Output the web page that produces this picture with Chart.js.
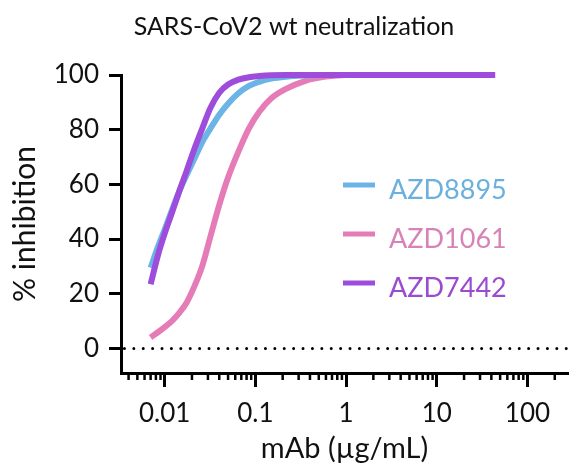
<!DOCTYPE html>
<html>
<head>
<meta charset="utf-8">
<script src="https://cdn.jsdelivr.net/npm/chart.js@4"></script>
<style>
  html, body { margin: 0; padding: 0; background: #fff; }
  #wrap { width: 576px; height: 470px; }
</style>
</head>
<body>
<div id="wrap"><canvas id="chart" width="576" height="470"></canvas></div>
<script>
// concentrations (ug/mL) shared by all three curves
const conc = [0.007, 0.0085, 0.01, 0.012, 0.0145, 0.0175, 0.021, 0.026, 0.032, 0.04, 0.05, 0.065, 0.085, 0.11, 0.15, 0.22, 0.35, 0.6, 1, 2, 5, 12, 25, 44];
const azd8895 = [29.5, 37.5, 43.5, 50.5, 57.5, 63.5, 69, 75.5, 80.5, 85.5, 89.5, 93.3, 96, 97.5, 98.7, 99.4, 99.8, 100, 100, 100, 100, 100, 100, 100];
const azd1061 = [4, 6, 7.8, 10, 13, 16.8, 22.3, 30.2, 41, 52.5, 62.5, 72, 80.5, 86.5, 91.5, 95, 97.8, 99.4, 100, 100, 100, 100, 100, 100];
const azd7442 = [23.5, 34.5, 42, 49.5, 57.5, 65, 72.5, 80.5, 88, 93.5, 96.5, 98.3, 99.2, 99.6, 99.9, 100, 100, 100, 100, 100, 100, 100, 100, 100];
const seriesNames = ['AZD8895', 'AZD1061', 'AZD7442'];
const seriesColors = ['#6db4e6', '#e67cb7', '#9d4cdb'];
const labelColors = ['#6cb0dd', '#d982b7', '#9b4bd0'];
const chartTitle = 'SARS-CoV2 wt neutralization';

const xDecades = [0.01, 0.1, 1, 10, 100];
const yTicks = [0, 20, 40, 60, 80, 100];
const zeroLine = [0.0036, 280];

const xMinor = [];
[0.001, 0.01, 0.1, 1, 10, 100].forEach(d => {
  [2, 3, 4, 5, 6, 7, 8, 9].forEach(m => {
    const v = +(m * d).toPrecision(3);
    if (v > 0.0035 && v < 280) xMinor.push(v);
  });
});

const FONT = 'Lato, "Open Sans", sans-serif';

const toPts = ys => conc.map((c, i) => ({ x: c, y: ys[i] }));

// title, minor ticks on the log axis, and the legend inside the plot
const extras = {
  id: 'extras',
  afterDraw(chart) {
    const ctx = chart.ctx;
    const xs = chart.scales.x;
    const bottom = chart.chartArea.bottom;
    ctx.save();

    ctx.font = '25px ' + FONT;
    ctx.fillStyle = '#111';
    ctx.textAlign = 'center';
    ctx.textBaseline = 'middle';
    ctx.fillText(chartTitle, 294, 27);

    ctx.strokeStyle = '#000';
    ctx.lineWidth = 2.5;
    xMinor.forEach(v => {
      const px = xs.getPixelForValue(v);
      ctx.beginPath();
      ctx.moveTo(px, bottom);
      ctx.lineTo(px, bottom + 7);
      ctx.stroke();
    });

    ctx.font = '27px ' + FONT;
    ctx.textAlign = 'left';
    seriesNames.forEach((name, i) => {
      const y = 185 + i * 49;
      ctx.strokeStyle = seriesColors[i];
      ctx.lineWidth = 5;
      ctx.beginPath();
      ctx.moveTo(343, y);
      ctx.lineTo(375, y);
      ctx.stroke();
      ctx.fillStyle = labelColors[i];
      ctx.fillText(name, 389, y + 5);
    });
    ctx.restore();
  }
};

const curve = (i, ys, order) => ({
  label: seriesNames[i],
  data: toPts(ys),
  borderColor: seriesColors[i],
  borderWidth: 6,
  pointRadius: 0,
  cubicInterpolationMode: 'monotone',
  borderCapStyle: 'butt',
  clip: false,
  order: order
});

new Chart(document.getElementById('chart'), {
  type: 'line',
  data: {
    datasets: [
      curve(2, azd7442, 0),
      curve(0, azd8895, 1),
      curve(1, azd1061, 2),
      {
        label: 'zero',
        data: zeroLine.map(x => ({ x: x, y: 0 })),
        borderColor: '#000',
        borderWidth: 3,
        borderDash: [0, 9.4],
        borderCapStyle: 'round',
        pointRadius: 0,
        order: 3
      }
    ]
  },
  options: {
    responsive: false,
    animation: false,
    layout: { padding: { left: 0, right: 8, top: 75, bottom: 0 } },
    plugins: {
      legend: { display: false },
      tooltip: { enabled: false },
      title: { display: false }
    },
    scales: {
      x: {
        type: 'logarithmic',
        min: 0.0033,
        max: 280,
        afterBuildTicks: s => { s.ticks = xDecades.map(v => ({ value: v })); },
        afterFit: s => { s.height = 97; },
        ticks: {
          callback: v => String(v),
          color: '#111',
          font: { family: FONT, size: 26 },
          padding: 11,
          maxRotation: 0,
          autoSkip: false
        },
        grid: { drawOnChartArea: false, drawTicks: true, tickLength: 14, tickWidth: 3, tickColor: '#000' },
        border: { display: true, color: '#000', width: 3 },
        title: {
          display: true,
          text: 'mAb (µg/mL)',
          color: '#111',
          font: { family: FONT, size: 29 },
          padding: { top: 4, bottom: 4 }
        }
      },
      y: {
        min: -9,
        max: 100,
        afterBuildTicks: s => { s.ticks = yTicks.map(v => ({ value: v })); },
        afterFit: s => { s.width = 121; },
        ticks: {
          color: '#111',
          font: { family: FONT, size: 26 },
          padding: 10
        },
        grid: { drawOnChartArea: false, drawTicks: true, tickLength: 12, tickWidth: 3, tickColor: '#000' },
        border: { display: true, color: '#000', width: 3 },
        title: {
          display: true,
          text: '% inhibition',
          color: '#111',
          font: { family: FONT, size: 30 },
          padding: { top: 7, bottom: 7 }
        }
      }
    }
  },
  plugins: [extras]
});
</script>
</body>
</html>
